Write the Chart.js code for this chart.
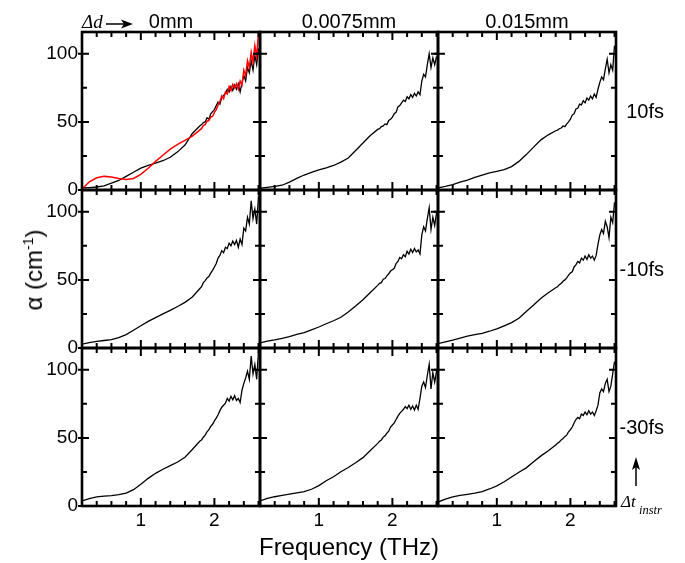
<!DOCTYPE html>
<html>
<head>
<meta charset="utf-8">
<script src="https://cdn.jsdelivr.net/npm/chart.js@4.4.1/dist/chart.umd.min.js"></script>
<style>
  html, body { margin: 0; padding: 0; background: #fff; }
  #wrap { position: relative; width: 685px; height: 563px; overflow: hidden;
          font-family: "Liberation Sans", Arial, sans-serif; color: #000; }
  #wrap canvas { position: absolute; }
  .lbl { position: absolute; white-space: nowrap; line-height: 1; }
  .it { font-family: "Liberation Serif", "Times New Roman", serif; font-style: italic; }
</style>
</head>
<body>
<div id="wrap"></div>
<script>
// frequency axis (THz), shared by every curve
const freq = [0.2, 0.3, 0.4, 0.5, 0.6, 0.7, 0.8, 0.9, 1.0, 1.1, 1.2, 1.3, 1.4, 1.5, 1.6, 1.7, 1.8,
  1.825, 1.85, 1.875, 1.9, 1.925, 1.95, 1.975, 2.0, 2.025, 2.05, 2.075, 2.1, 2.125, 2.15, 2.175, 2.2,
  2.225, 2.25, 2.275, 2.3, 2.325, 2.35, 2.375, 2.4, 2.425, 2.45, 2.475, 2.5, 2.525, 2.55, 2.575, 2.6];

// alpha (cm^-1), one array per panel  (row = delta t, column = delta d)
const alpha_10fs_0mm = [1.5, 1.8, 2.2, 3, 5, 7, 10, 13, 16, 18, 19.8, 21.5, 24, 28, 33, 41.5, 47,
  48, 49.5, 50, 53, 52, 56, 57.5, 59, 62, 64.5, 63, 68, 69.5, 71, 74, 72,
  76, 73, 77, 74, 78, 72, 79, 84, 80, 90, 86, 95, 88, 99, 92, 104];
const alpha_10fs_0mm_red = [0.7, 6, 9, 10, 9.5, 8.5, 7.8, 8.5, 11.5, 16, 21, 25.5, 30, 33.5, 36.5, 39.5, 44,
  45, 47.5, 48, 50.5, 51, 53.5, 54, 57, 59, 62.5, 65, 69, 67, 72, 70.5, 76,
  73, 77.5, 75, 78, 74, 80, 77, 88, 84, 95, 90, 101, 94, 106, 98, 116];
const alpha_10fs_0075mm = [1.4, 2, 2.7, 3.5, 5.8, 8.5, 11, 13, 14.8, 16.2, 18, 20.5, 23.5, 29, 34.5, 40, 44.5,
  45, 46.5, 47, 48.5, 48, 51, 52, 53.5, 56, 57, 61, 62, 64, 66, 65, 68.5,
  67, 70, 68, 71, 69, 72, 70, 80, 85, 83, 92, 100, 90, 97, 92, 98];
const alpha_10fs_015mm = [1.5, 2.6, 4, 5.7, 7.3, 9.2, 11, 12.5, 13.7, 15, 17.2, 21, 26, 31.5, 36.8, 40.5, 43.5,
  44, 45, 45.5, 47, 46.5, 48.5, 50, 52, 55, 56, 59.5, 60, 63, 62.5, 65.5, 64,
  67.5, 66, 69, 67, 70.5, 68, 74, 79, 83, 81, 89, 96, 86, 92, 88, 106];
const alpha_m10fs_0mm = [2.9, 4, 4.9, 5.5, 6.2, 7.6, 9.8, 13, 16.3, 19.5, 22.3, 25, 27.6, 30.5, 33.5, 37.5, 43.5,
  45, 48, 49.5, 51.5, 52.5, 55, 57, 59.5, 62, 66, 68, 71.5, 70, 74, 73, 77,
  75, 78.5, 76, 79, 74, 80, 76, 88, 86, 96, 91, 108, 95, 102, 91, 112];
const alpha_m10fs_0075mm = [3.8, 5, 5.9, 7, 8.4, 10, 11.3, 13.3, 15.4, 17.8, 20, 22.6, 26.5, 30.8, 35.5, 40.7, 46,
  47.5, 48, 50.5, 51, 53, 54.5, 56.5, 57.5, 58.5, 62, 63.5, 66.5, 65.5, 68.5, 67, 71,
  69, 72.5, 70, 73, 70.5, 72, 69, 83, 89, 86, 95, 103, 87, 96, 90, 99];
const alpha_m10fs_015mm = [3.2, 4.5, 5.8, 7.3, 8.7, 9.8, 10.8, 12.3, 14, 16.3, 18.6, 21.8, 26.8, 31.5, 36.5, 40.5, 44.2,
  45, 46.5, 47.5, 49, 50, 51.5, 53.5, 55, 56, 59.5, 61, 63.5, 62.5, 66, 64.5, 67.5,
  65, 68.5, 66, 67.5, 64.5, 68, 76, 83, 87, 84, 93, 89, 81, 96, 92, 107];
const alpha_m30fs_0mm = [3.7, 5.5, 6.7, 7.2, 7.6, 8.3, 9.5, 12, 16, 20.3, 24, 27, 29.6, 32.3, 35.8, 41.5, 47.5,
  48.5, 50.5, 52, 54.5, 56, 58.5, 60, 62.5, 64.5, 67, 70, 72.5, 74, 75.5, 79, 77,
  80.5, 78, 81, 77.5, 79, 76, 85, 90, 94, 99, 93, 110, 97, 104, 93, 114];
const alpha_m30fs_0075mm = [3.7, 5.6, 6.8, 7.8, 8.7, 9.6, 10.5, 12.3, 15, 18.5, 21.5, 25.2, 28.3, 31.8, 35.5, 40.8, 46,
  47.5, 48.5, 50.5, 51.5, 53.5, 55, 58, 59.5, 61, 63.5, 66, 68, 69.5, 71, 73, 71.5,
  74, 71, 73.5, 70.5, 74, 71, 79, 88, 91, 87, 96, 104, 86, 98, 91, 99];
const alpha_m30fs_015mm = [2.9, 5, 6.7, 7.8, 8.6, 9.5, 10.6, 12.5, 14.8, 17.8, 21.3, 24.8, 28, 32.5, 36.8, 40.5, 44.8,
  46, 47, 48.5, 49.5, 51, 52, 54.5, 56, 58, 61, 63.5, 65, 64, 67.5, 66.5, 69,
  67, 70, 67.5, 69, 66.5, 70, 74, 83, 86, 84, 90, 93, 84, 88, 97, 106];

const colTitles = ["0mm", "0.0075mm", "0.015mm"];
const rowTitles = ["10fs", "-10fs", "-30fs"];

// axis ticks
const xLabelTicks = [1, 2];
const xTickMarks = [0.2, 0.4, 0.6, 0.8, 1, 1.2, 1.4, 1.6, 1.8, 2, 2.2, 2.4, 2.6];
const yLabelTicks = [0, 50, 100];
const yTickMarks = [0, 25, 50, 75, 100];

const grid = [
  [alpha_10fs_0mm, alpha_10fs_0075mm, alpha_10fs_015mm],
  [alpha_m10fs_0mm, alpha_m10fs_0075mm, alpha_m10fs_015mm],
  [alpha_m30fs_0mm, alpha_m30fs_0075mm, alpha_m30fs_015mm]
];

const panelLeft = [82, 260, 438];
const panelTop = [32, 190, 348];
const panelW = 178, panelH = 158;
const padL = 40, padT = 18, padR = 10, padB = 30;

Chart.defaults.font.family = '"Liberation Sans", Arial, sans-serif';
Chart.defaults.color = "#000";

// frame + tick marks on all four sides
const frameTicks = {
  id: "frameTicks",
  afterDraw(chart) {
    const ctx = chart.ctx;
    const a = chart.chartArea;
    const xs = chart.scales.x;
    const ys = chart.scales.y;
    ctx.save();
    ctx.strokeStyle = "#000";
    ctx.lineWidth = 2;
    xTickMarks.forEach((v) => {
      const px = xs.getPixelForValue(v);
      const len = xLabelTicks.includes(v) ? 8 : 5;
      ctx.beginPath();
      ctx.moveTo(px, a.bottom);
      ctx.lineTo(px, a.bottom - len);
      ctx.moveTo(px, a.top);
      ctx.lineTo(px, a.top + len);
      ctx.stroke();
    });
    yTickMarks.forEach((v) => {
      const py = ys.getPixelForValue(v);
      const major = yLabelTicks.includes(v);
      const len = major ? 7 : 5;
      ctx.beginPath();
      ctx.moveTo(a.left - (major ? 4 : 0), py);
      ctx.lineTo(a.left + len, py);
      ctx.moveTo(a.right, py);
      ctx.lineTo(a.right - len, py);
      ctx.stroke();
    });
    ctx.lineWidth = 2.6;
    ctx.strokeRect(a.left, a.top, a.right - a.left, a.bottom - a.top);
    ctx.restore();
  }
};

const toPoints = (vals) => freq.map((f, i) => ({ x: f, y: vals[i] }));

const wrap = document.getElementById("wrap");

grid.forEach((rowData, r) => {
  rowData.forEach((vals, c) => {
    const canvas = document.createElement("canvas");
    canvas.width = panelW + padL + padR;
    canvas.height = panelH + padT + padB;
    canvas.style.left = panelLeft[c] - padL + "px";
    canvas.style.top = panelTop[r] - padT + "px";
    wrap.appendChild(canvas);

    const datasets = [];
    if (r === 0 && c === 0) {
      datasets.push({
        data: toPoints(alpha_10fs_0mm_red),
        borderColor: "#ff0000",
        borderWidth: 1.5,
        pointRadius: 0
      });
    }
    datasets.push({
      data: toPoints(vals),
      borderColor: "#000",
      borderWidth: 1.3,
      pointRadius: 0
    });

    new Chart(canvas, {
      type: "line",
      data: { datasets },
      plugins: [frameTicks],
      options: {
        responsive: false,
        animation: false,
        layout: { padding: { top: padT, right: padR, left: 0, bottom: 0 } },
        plugins: {
          legend: { display: false },
          tooltip: { enabled: false }
        },
        scales: {
          x: {
            type: "linear",
            min: 0.2,
            max: 2.62,
            grid: { display: false, drawTicks: false },
            border: { display: false },
            afterBuildTicks: (s) => { s.ticks = xLabelTicks.map((v) => ({ value: v })); },
            afterFit: (s) => { s.height = padB; },
            ticks: { display: r === 2, padding: 3, font: { size: 19 }, color: "#000" }
          },
          y: {
            min: 0,
            max: 116,
            grid: { display: false, drawTicks: false },
            border: { display: false },
            afterBuildTicks: (s) => { s.ticks = yLabelTicks.map((v) => ({ value: v })); },
            afterFit: (s) => { s.width = padL; },
            ticks: { display: c === 0, padding: 4, font: { size: 19 }, color: "#000" }
          }
        }
      }
    });
  });
});

// text around the grid
function addLabel(html, css, cls) {
  const d = document.createElement("div");
  d.className = "lbl" + (cls ? " " + cls : "");
  d.innerHTML = html;
  Object.assign(d.style, css);
  wrap.appendChild(d);
  return d;
}

colTitles.forEach((t, c) => {
  addLabel(t, {
    left: panelLeft[c] + "px", width: panelW + "px", textAlign: "center",
    top: "11px", fontSize: "20px"
  });
});
rowTitles.forEach((t, r) => {
  addLabel(t, {
    right: 685 - 664 + "px", textAlign: "right",
    top: panelTop[r] + panelH / 2 - 10 + "px", fontSize: "20px"
  });
});

addLabel("&Delta;d", { left: "82px", top: "12px", fontSize: "19px" }, "it");
addLabel('<svg width="30" height="12"><line x1="0" y1="6" x2="20" y2="6" stroke="#000" stroke-width="1.5"/><polygon points="15,1.5 27,6 15,10.5 18,6" fill="#000"/></svg>',
  { left: "106px", top: "17px" });

addLabel("Frequency (THz)", {
  left: panelLeft[1] - 60 + "px", width: panelW + 120 + "px", textAlign: "center",
  top: "535px", fontSize: "24px"
});
addLabel('&alpha; (cm<sup style="font-size:14px;vertical-align:9px;line-height:0">-1</sup>)', {
  left: "34px", top: "270px", fontSize: "24px",
  transform: "translate(-50%, -50%) rotate(-90deg)"
});

addLabel('<svg width="12" height="32"><line x1="6" y1="30" x2="6" y2="10" stroke="#000" stroke-width="1.5"/><polygon points="6,1 2,14 6,11 10,14" fill="#000"/></svg>',
  { left: "630px", top: "456px" });
addLabel("&Delta;t", { left: "621px", top: "493px", fontSize: "17px" }, "it");
addLabel("instr", { left: "639px", top: "504px", fontSize: "12.5px" }, "it");
</script>
</body>
</html>
